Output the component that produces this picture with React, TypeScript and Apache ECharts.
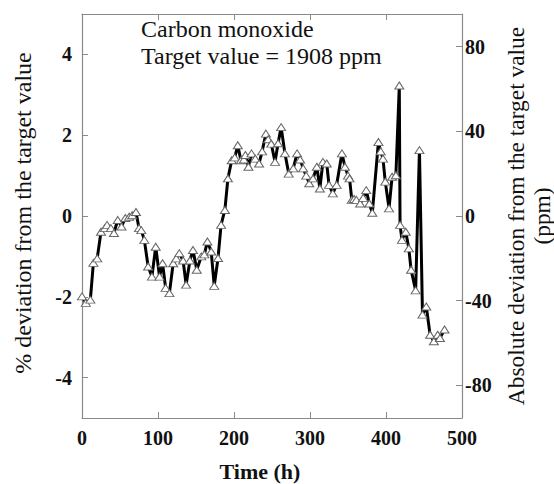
import React, { useEffect, useRef } from "react";
import * as echarts from "echarts";

const timeH = [
  0, 5, 11, 15, 20, 25, 30, 33, 38, 42, 47, 52, 57, 62, 66, 71, 75, 78, 82, 87,
  92, 97, 102, 106, 110, 115, 120, 124, 128, 133, 137, 142, 146, 151, 157, 161,
  165, 170, 174, 179, 183, 188, 192, 197, 201, 205, 209, 213, 215, 219, 223, 228,
  233, 237, 242, 245, 249, 254, 258, 262, 267, 272, 278, 283, 287, 291, 295, 299,
  304, 309, 313, 317, 322, 325, 330, 335, 342, 346, 350, 352, 355, 358, 361, 366,
  370, 374, 378, 382, 390, 393, 396, 399, 404, 408, 413, 417.5, 418.5, 421, 426,
  430, 433, 439, 444, 448, 453, 458, 463, 468, 471, 477,
];
const deviationPct = [
  -1.99, -2.15, -2.07, -1.16, -1.05, -0.39, -0.3, -0.22, -0.3, -0.42, -0.1, -0.26,
  -0.05, -0.02, 0.02, 0.1, -0.3, -0.35, -0.59, -1.25, -1.5, -0.76, -1.5, -1.17,
  -1.78, -1.91, -1.17, -1.05, -0.92, -1.1, -1.7, -1.1, -0.84, -1.33, -1.0, -0.95,
  -0.63, -0.88, -1.73, -1.04, -0.22, 0.15, 0.93, 1.38, 1.45, 1.75, 1.38, 1.4, 1.51,
  1.22, 1.55, 1.42, 1.3, 1.6, 2.04, 1.9, 1.79, 1.34, 1.8, 2.2, 1.55, 1.05, 1.18,
  1.55, 1.4, 1.18, 1.0, 0.81, 0.93, 1.22, 0.68, 1.34, 1.3, 0.77, 0.56, 0.77, 1.55,
  1.22, 1.0, 0.93, 0.4, 0.42, 0.4, 0.31, 0.45, 0.64, 0.31, 0.08, 1.83, 1.6, 1.42,
  0.85, 0.19, 0.97, 1.01, 3.23, -0.22, -0.59, -0.39, -0.8, -1.33, -1.84, 1.63,
  -2.44, -2.24, -2.94, -3.1, -2.94, -3.02, -2.81,
];

const xTicks = [0, 100, 200, 300, 400, 500];
const leftTicks = [-4, -2, 0, 2, 4];
const rightTicks = [-80, -40, 0, 40, 80];
const targetPpm = 1908;

const serif = "Liberation Serif";
const frameColor = "#8a8a8a";

export default function App() {
  const ref = useRef<HTMLDivElement>(null);
  useEffect(() => {
    if (!ref.current) return;
    const chart = echarts.init(ref.current, null, { renderer: "svg" });
    const rightMax = (targetPpm * 5) / 100;
    const tickLabel = {
      fontFamily: serif,
      fontSize: 20,
      fontWeight: "bold" as const,
      color: "#111",
    };
    const axisLine = { show: true, onZero: false, lineStyle: { color: frameColor, width: 1.2 } };
    chart.setOption({
      animation: false,
      backgroundColor: "#fff",
      title: {
        text: `Carbon monoxide\nTarget value = ${targetPpm} ppm`,
        left: 141,
        top: 15,
        padding: 0,
        textStyle: {
          fontFamily: serif,
          fontSize: 24,
          fontWeight: "normal",
          color: "#111",
          lineHeight: 27,
        },
      },
      grid: {
        left: 82,
        right: 92,
        top: 14,
        bottom: 66,
        containLabel: false,
        outerBoundsMode: "none",
      },
      xAxis: [
        {
          type: "value",
          position: "bottom",
          min: 0,
          max: 500,
          interval: 100,
          axisLine,
          axisTick: { show: true, inside: true, length: 6, lineStyle: { color: frameColor } },
          axisLabel: { ...tickLabel, margin: 10, customValues: xTicks },
          splitLine: { show: false },
          name: "Time (h)",
          nameLocation: "middle",
          nameGap: 42,
          nameTextStyle: {
            fontFamily: serif,
            fontSize: 22,
            fontWeight: "bold",
            color: "#111",
            padding: [0, 24, 0, 0],
          },
        },
        {
          type: "value",
          position: "top",
          min: 0,
          max: 500,
          interval: 100,
          axisLine,
          axisTick: { show: true, inside: true, length: 6, lineStyle: { color: frameColor } },
          axisLabel: { show: false },
          splitLine: { show: false },
        },
      ],
      yAxis: [
        {
          type: "value",
          position: "left",
          min: -5,
          max: 5,
          axisLine,
          axisTick: {
            show: true,
            inside: true,
            length: 6,
            customValues: leftTicks,
            lineStyle: { color: frameColor },
          },
          axisLabel: { ...tickLabel, margin: 10, customValues: leftTicks },
          splitLine: { show: false },
          name: "% deviation from the target value",
          nameLocation: "middle",
          nameRotate: 90,
          nameGap: 47,
          nameTextStyle: {
            fontFamily: serif,
            fontSize: 24,
            color: "#111",
            padding: [0, 0, 0, 6],
          },
        },
        {
          type: "value",
          position: "right",
          min: -rightMax,
          max: rightMax,
          axisLine,
          axisTick: {
            show: true,
            inside: true,
            length: 6,
            customValues: rightTicks,
            lineStyle: { color: frameColor },
          },
          axisLabel: { ...tickLabel, margin: 3, customValues: rightTicks },
          splitLine: { show: false },
          name: "Absolute deviation from the target value\n(ppm)",
          nameLocation: "middle",
          nameRotate: 90,
          nameGap: 36,
          nameTextStyle: {
            fontFamily: serif,
            fontSize: 23.4,
            color: "#111",
            lineHeight: 26,
            align: "center",
          },
        },
      ],
      series: [
        {
          type: "line",
          xAxisIndex: 0,
          yAxisIndex: 0,
          data: timeH.map((t, i) => [t, deviationPct[i]]),
          symbol: "triangle",
          symbolSize: [9, 7],
          showAllSymbol: true,
          lineStyle: { color: "#000", width: 3 },
          itemStyle: { color: "#fff", borderColor: "#666", borderWidth: 1 },
          z: 3,
        },
      ],
    });
    return () => chart.dispose();
  }, []);
  return <div ref={ref} style={{ width: 554, height: 484, position: "absolute", left: 0, top: 0 }} />;
}
